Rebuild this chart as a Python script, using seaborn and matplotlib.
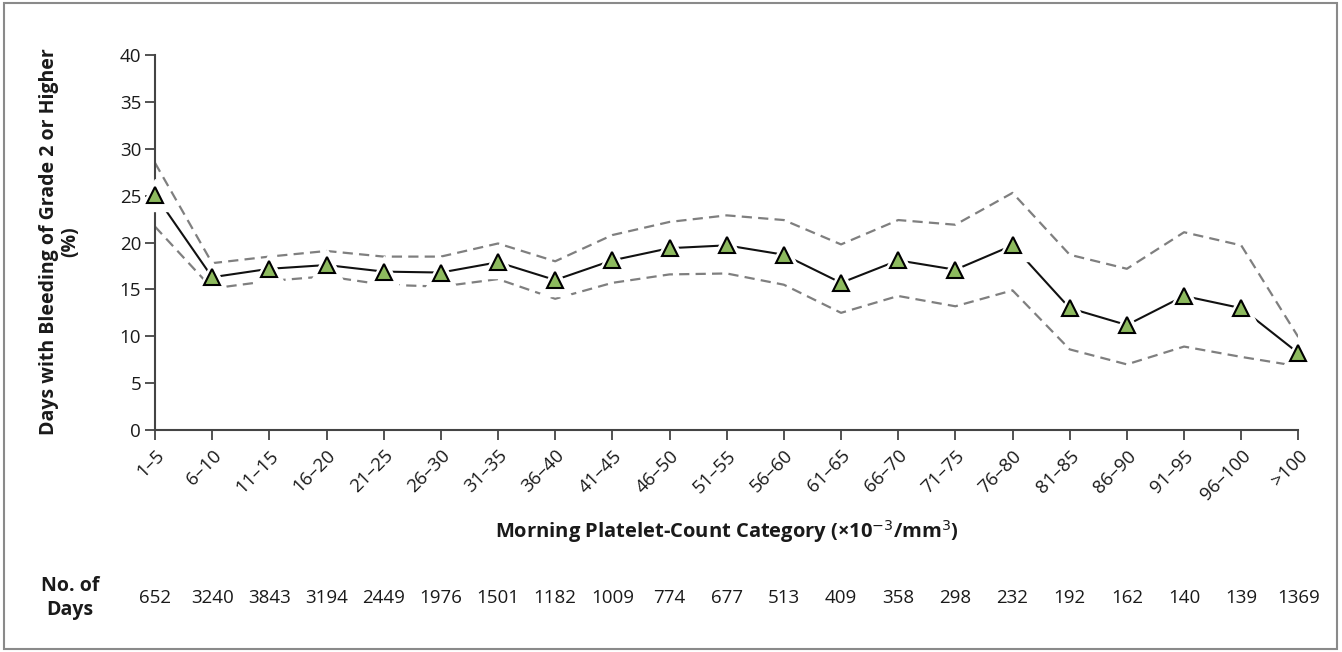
import matplotlib
matplotlib.use("Agg")
import matplotlib.pyplot as plt
import matplotlib.transforms as mtransforms
from matplotlib.patches import Rectangle
import seaborn as sns
import pandas as pd

categories = ["1–5", "6–10", "11–15", "16–20", "21–25", "26–30", "31–35", "36–40",
              "41–45", "46–50", "51–55", "56–60", "61–65", "66–70", "71–75", "76–80",
              "81–85", "86–90", "91–95", "96–100", ">100"]
estimate = [25.1, 16.3, 17.2, 17.6, 16.9, 16.8, 17.9, 16.0, 18.1, 19.4, 19.7,
            18.7, 15.7, 18.1, 17.1, 19.7, 13.0, 11.2, 14.3, 13.0, 8.2]
upper_ci = [28.5, 17.8, 18.5, 19.1, 18.5, 18.5, 19.9, 18.0, 20.8, 22.2, 22.9,
            22.4, 19.8, 22.4, 21.9, 25.3, 18.7, 17.2, 21.1, 19.7, 9.9]
lower_ci = [21.7, 15.1, 15.9, 16.4, 15.5, 15.3, 16.1, 14.0, 15.7, 16.6, 16.7,
            15.5, 12.5, 14.3, 13.2, 14.9, 8.6, 7.0, 8.9, 7.8, 6.8]
n_days = [652, 3240, 3843, 3194, 2449, 1976, 1501, 1182, 1009, 774, 677, 513,
          409, 358, 298, 232, 192, 162, 140, 139, 1369]

sns.set_theme(style="white")
plt.rcParams["font.family"] = ["Open Sans", "DejaVu Sans"]

df = pd.DataFrame({"pos": range(len(categories)), "est": estimate,
                   "up": upper_ci, "lo": lower_ci})

fig = plt.figure(figsize=(13.42, 6.52), dpi=100)
ax = fig.add_axes([0.1155, 0.3405, 0.852, 0.575])

dash_kw = dict(color="#7f7f7f", linewidth=1.6, linestyle=(0, (4.6, 2.8)))
sns.lineplot(data=df, x="pos", y="up", ax=ax, **dash_kw)
sns.lineplot(data=df, x="pos", y="lo", ax=ax, **dash_kw)
sns.lineplot(data=df, x="pos", y="est", ax=ax, color="#111111", linewidth=1.5)
# white halo to create gaps around markers
ax.plot(df["pos"], df["est"], linestyle="none", marker="^", markersize=23,
        markerfacecolor="white", markeredgecolor="white", zorder=4, clip_on=False)
ax.plot(df["pos"], df["est"], linestyle="none", marker="^", markersize=12,
        markerfacecolor="#8dba5e", markeredgecolor="black", markeredgewidth=1.5,
        zorder=5, clip_on=False)

ax.set_xlim(0, len(categories) - 1)
ax.set_ylim(0, 40)
ax.set_yticks(range(0, 41, 5))
ax.set_xticks(range(len(categories)))
ax.set_xticklabels(categories, rotation=45, ha="right", rotation_mode="anchor")
ax.tick_params(axis="both", which="major", direction="out", length=7, width=1.3,
               color="#444444", labelsize=13.5, labelcolor="#1a1a1a", pad=3,
               left=True, bottom=True)
ax.tick_params(axis="x", pad=5)
for s in ["top", "right"]:
    ax.spines[s].set_visible(False)
for s in ["left", "bottom"]:
    ax.spines[s].set_color("#444444")
    ax.spines[s].set_linewidth(1.5)
ax.set_xlabel("")
ax.set_ylabel("")

fig.text(0.0445, 0.629, "Days with Bleeding of Grade 2 or Higher\n(%)", rotation=90,
         ha="center", va="center", fontsize=14, fontweight="bold",
         color="#1a1a1a", linespacing=1.1)
fig.text(0.542, 0.184, "Morning Platelet-Count Category (×10$^{-3}$/mm$^{3}$)",
         ha="center", va="center", fontsize=14.5, fontweight="bold", color="#1a1a1a")
fig.text(0.052, 0.083, "No. of\nDays", ha="center", va="center", fontsize=14,
         fontweight="bold", color="#1a1a1a", linespacing=1.25)

trans = mtransforms.blended_transform_factory(ax.transData, fig.transFigure)
for i, n in enumerate(n_days):
    ax.text(i, 0.083, str(n), transform=trans, ha="center", va="center",
            fontsize=13.5, color="#1a1a1a")

fig.patches.append(Rectangle((0.003, 0.005), 0.993, 0.99, transform=fig.transFigure,
                             fill=False, edgecolor="#8a8a8a", linewidth=1.5))

fig.savefig("out.png", dpi=100, facecolor="white")
